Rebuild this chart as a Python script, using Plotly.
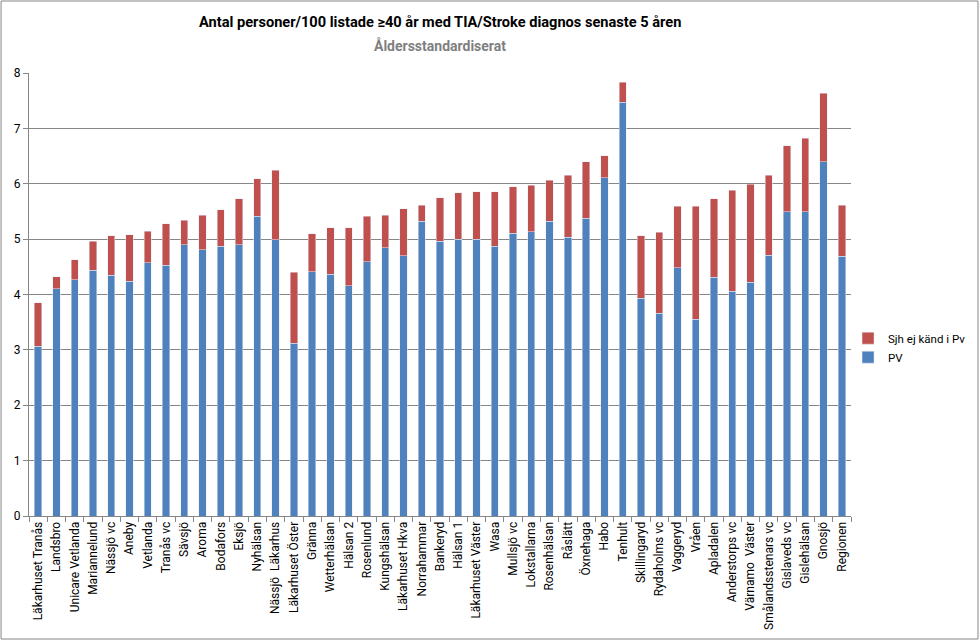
import plotly.graph_objects as go

categories = ["Läkarhuset Tranås", "Landsbro", "Unicare Vetlanda", "Mariannelund", "Nässjö vc",
              "Aneby", "Vetlanda", "Tranås vc", "Sävsjö", "Aroma", "Bodafors", "Eksjö", "Nyhälsan",
              "Nässjö  Läkarhus", "Läkarhuset Öster", "Gränna", "Wetterhälsan", "Hälsan 2", "Rosenlund",
              "Kungshälsan", "Läkarhuset Hkva", "Norrahammar", "Bankeryd", "Hälsan 1", "Läkarhuset Väster",
              "Wasa", "Mullsjö vc", "Lokstallarna", "Rosenhälsan", "Råslätt", "Öxnehaga", "Habo", "Tenhult",
              "Skillingaryd", "Rydaholms vc", "Vaggeryd", "Vråen", "Apladalen", "Anderstorps vc",
              "Värnamo  Väster", "Smålandsstenars vc", "Gislaveds vc", "Gislehälsan", "Gnosjö", "Regionen"]

pv = [3.07, 4.10, 4.27, 4.44, 4.35, 4.24, 4.57, 4.53, 4.90, 4.81, 4.87, 4.90, 5.41,
      4.99, 3.12, 4.41, 4.37, 4.16, 4.59, 4.84, 4.70, 5.32, 4.96, 5.00, 5.00,
      4.87, 5.11, 5.13, 5.32, 5.03, 5.38, 6.11, 7.47, 3.93, 3.66, 4.48, 3.55,
      4.31, 4.06, 4.22, 4.71, 5.49, 5.49, 6.40, 4.69]

total = [3.85, 4.32, 4.63, 4.96, 5.06, 5.08, 5.14, 5.28, 5.34, 5.43, 5.53, 5.73, 6.09,
         6.24, 4.40, 5.10, 5.21, 5.21, 5.41, 5.43, 5.55, 5.61, 5.75, 5.84, 5.86,
         5.86, 5.95, 5.97, 6.06, 6.15, 6.40, 6.51, 7.83, 5.06, 5.12, 5.59, 5.59,
         5.73, 5.88, 5.99, 6.15, 6.69, 6.82, 7.63, 5.61]

sjh = [round(t - p, 2) for t, p in zip(total, pv)]

y_ticks = [0, 1, 2, 3, 4, 5, 6, 7, 8]

FONT = "Roboto, Liberation Sans, sans-serif"

fig = go.Figure()
fig.add_trace(go.Bar(x=categories, y=pv, name="PV", marker_color="#4F81BD"))
fig.add_trace(go.Bar(x=categories, y=sjh, name="Sjh ej känd i Pv", marker_color="#C0504D"))

fig.update_layout(
    width=980, height=641,
    barmode="stack", bargap=0.6,
    paper_bgcolor="white", plot_bgcolor="white",
    margin=dict(l=29, r=129, t=73, b=125, autoexpand=False),
    font=dict(family=FONT, size=12, color="black"),
    showlegend=True,
    legend=dict(x=0.9964, y=0.38, xanchor="left", yanchor="middle",
                traceorder="reversed", font=dict(size=11.5),
                bgcolor="rgba(0,0,0,0)",
                itemwidth=30, tracegroupgap=4),
    shapes=[dict(type="rect", xref="paper", yref="paper",
                 x0=-0.034, x1=1.1545, y0=-0.2777, y1=1.1625,
                 line=dict(color="#868686", width=1))],
)

fig.add_annotation(text="<b>Antal personer/100 listade ≥40 år med TIA/Stroke diagnos senaste 5 åren</b>",
                   x=0.5, y=(516 - 22) / 443, xref="paper", yref="paper", showarrow=False,
                   xanchor="center", yanchor="middle",
                   font=dict(size=14.6, color="black", family=FONT))
fig.add_annotation(text="<b>Åldersstandardiserat</b>",
                   x=0.5, y=(516 - 45) / 443, xref="paper", yref="paper", showarrow=False,
                   xanchor="center", yanchor="middle",
                   font=dict(size=14, color="#7F7F7F", family=FONT))

fig.update_yaxes(range=[0, 8], tickvals=y_ticks, showgrid=True, gridcolor="#868686", gridwidth=1,
                 showline=True, linecolor="#868686", ticks="outside", ticklen=5, tickcolor="#868686",
                 zeroline=False, tickfont=dict(size=12), automargin=False)
fig.update_xaxes(tickangle=-90, showline=True, linecolor="#868686", ticks="outside",
                 tickson="boundaries", ticklen=5, tickcolor="#868686", tickfont=dict(size=12),
                 automargin=False)

fig.write_html("out.html", config={"displayModeBar": False},
               post_script="document.body.style.margin='0';document.body.style.padding='0';")
